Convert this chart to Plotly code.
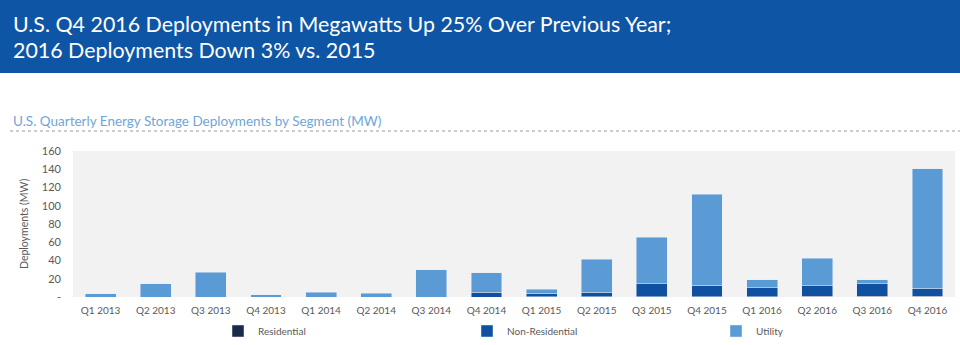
import plotly.graph_objects as go

# Quarterly U.S. energy storage deployments (MW) by segment
quarters = ["Q1 2013", "Q2 2013", "Q3 2013", "Q4 2013",
            "Q1 2014", "Q2 2014", "Q3 2014", "Q4 2014",
            "Q1 2015", "Q2 2015", "Q3 2015", "Q4 2015",
            "Q1 2016", "Q2 2016", "Q3 2016", "Q4 2016"]
residential = [0, 0, 0, 0, 0, 0, 0, 0, 0.3, 0.4, 0.4, 0.5, 0.5, 0.6, 0.6, 0.6]
non_residential = [0, 0, 0, 0, 0, 0, 0, 5.0, 3.6, 5.0, 13.9, 12.4, 9.9, 11.7, 14.2, 8.8]
utility = [3.3, 14.6, 27.4, 2.5, 5.2, 4.0, 29.6, 21.6, 4.5, 35.9, 51.1, 99.6, 8.6, 30.4, 4.2, 131.2]

y_ticks = [0, 20, 40, 60, 80, 100, 120, 140, 160]
y_ticktext = ["-"] + [str(v) for v in y_ticks[1:]]

title_lines = ["U.S. Q4 2016 Deployments in Megawatts Up 25% Over Previous Year;",
               "2016 Deployments Down 3% vs. 2015"]
subtitle = "U.S. Quarterly Energy Storage Deployments by Segment (MW)"

W, H = 960, 345
M_L, M_R, M_T, M_B = 73, 5, 151, 48
PW, PH = W - M_L - M_R, H - M_T - M_B

def px(x):
    return (x - M_L) / PW

def py(y):
    return (H - M_B - y) / PH

FONT = "Lato, 'Open Sans', sans-serif"
GREY = "#595959"

fig = go.Figure()
fig.add_bar(x=quarters, y=residential, name="Residential", marker_color="#1B2A48")
fig.add_bar(x=quarters, y=non_residential, name="Non-Residential", marker_color="#0F50A0")
fig.add_bar(x=quarters, y=utility, name="Utility", marker_color="#5B9BD5")

fig.update_layout(
    width=W, height=H,
    margin=dict(l=M_L, r=M_R, t=M_T, b=M_B, autoexpand=False),
    barmode="stack", bargap=0.44,
    paper_bgcolor="white", plot_bgcolor="#F2F2F2",
    font=dict(family=FONT, size=10, color=GREY),
    xaxis=dict(range=[-0.5, 15.5], showgrid=False, zeroline=False, showline=False,
               ticks="", ticklabelstandoff=6, tickfont=dict(size=10, color=GREY)),
    yaxis=dict(range=[0, 160], tickvals=y_ticks, ticktext=y_ticktext, showgrid=False,
               zeroline=False, showline=False, ticks="", ticklen=0, ticklabelstandoff=11,
               tickfont=dict(size=11, color=GREY)),
    showlegend=True,
    legend=dict(orientation="h", x=px(218), y=py(331), yanchor="middle", xanchor="left",
                entrywidth=204, entrywidthmode="pixels", bgcolor="rgba(0,0,0,0)",
                font=dict(size=10, color=GREY), traceorder="normal"),
)

# header band and dotted rule under the subtitle
fig.add_shape(type="rect", xref="paper", yref="paper",
              x0=px(0), x1=px(W), y0=py(73), y1=py(0),
              fillcolor="#0E55A5", line_width=0, layer="below")
fig.add_shape(type="line", xref="paper", yref="paper",
              x0=px(10), x1=px(W), y0=py(131), y1=py(131),
              line=dict(color="#9A9A9A", width=1, dash="dot"))

for i, line in enumerate(title_lines):
    fig.add_annotation(text=line, xref="paper", yref="paper", x=px(11), y=py(24 + 26 * i),
                       xanchor="left", yanchor="middle", showarrow=False,
                       font=dict(family=FONT, size=21.4, color="white"))

fig.add_annotation(text=subtitle, xref="paper", yref="paper", x=px(11), y=py(121),
                   xanchor="left", yanchor="middle", showarrow=False,
                   font=dict(family=FONT, size=13.5, color="#6FA6D8"))

fig.add_annotation(text="Deployments (MW)", xref="paper", yref="paper", x=px(24), y=py(224),
                   xanchor="center", yanchor="middle", textangle=-90, showarrow=False,
                   font=dict(family=FONT, size=10.5, color=GREY))

fig.write_html("out.html")
